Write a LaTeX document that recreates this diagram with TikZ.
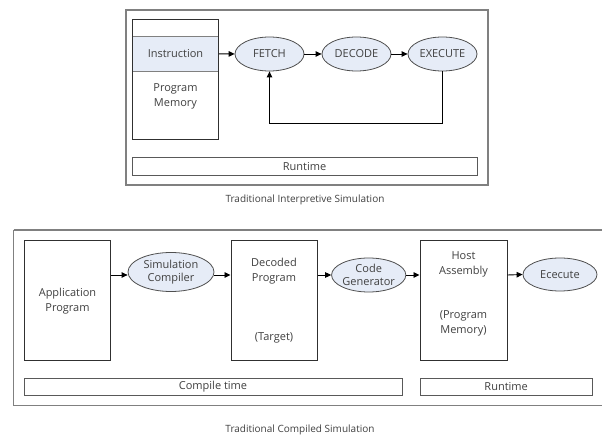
\documentclass[tikz,border=0pt]{standalone}
\usepackage{fontspec}
\setmainfont{Open Sans}
\usetikzlibrary{arrows.meta,shapes.geometric}
\definecolor{frameg}{HTML}{808080}
\definecolor{boxk}{HTML}{303030}
\definecolor{ellfill}{HTML}{E6ECF7}
\definecolor{txt}{HTML}{404040}
\tikzset{
  frame/.style={draw=frameg,line width=1.3pt},
  blk/.style={draw=boxk,line width=1pt,inner sep=0pt},
  bar/.style={draw=boxk!80,line width=0.8pt,inner sep=0pt,font=\fontsize{11}{12}\selectfont,text=txt},
  ell/.style={ellipse,draw=boxk!85,line width=0.8pt,fill=ellfill,inner sep=0pt,font=\fontsize{11}{13}\selectfont,text=txt,align=center},
  lbl/.style={font=\fontsize{11}{15}\selectfont,text=txt,align=center,inner sep=0pt},
  captxt/.style={font=\fontsize{10}{12}\selectfont,text=txt,inner sep=0pt},
  arr/.style={-{Triangle[length=6pt,width=5.5pt]},line width=0.9pt,draw=black},
}
\begin{document}
\begin{tikzpicture}[x=1pt,y=-1pt]
\useasboundingbox (0,0) rectangle (602,435);
\fill[white] (0,0) rectangle (602,435);
% ---------- top ----------
\draw[frame] (126,10) rectangle (488,185);
\node[inner sep=0pt,minimum width=86pt,minimum height=120pt] (pm) at (175.5,79.5) {};
\node[draw=frameg,line width=0.6pt,fill=ellfill,minimum width=86pt,minimum height=34.3pt,inner sep=0pt,font=\fontsize{11}{12}\selectfont,text=txt] (instr) at (175.5,53.85) {Instruction};
\draw[boxk,line width=1pt] (pm.north west) rectangle (pm.south east);
\node[lbl] (pmt) at (175.5,96) {Program\\Memory};
\node[ell,minimum width=69pt,minimum height=34pt] (fetch) at (269.5,54) {FETCH};
\node[ell,minimum width=69pt,minimum height=34pt] (decode) at (356.5,54) {DECODE};
\node[ell,minimum width=69pt,minimum height=34pt] (execute) at (442.5,54) {EXECUTE};
\draw[arr] (instr.east) -- (fetch.west);
\draw[arr] (fetch.east) -- (decode.west);
\draw[arr] (decode.east) -- (execute.west);
\coordinate (fb) at (442.5,123.5);
\draw[arr] (execute.south) -- (fb) -| (fetch.south);
\node[bar,minimum width=345pt,minimum height=17.7pt] (rt1) at (304.5,166.2) {Runtime};
\node[captxt] (cap1) at (305,200) {Traditional Interpretive Simulation};
% ---------- bottom ----------
\draw[frame] (13.5,230) -- (604,230);
\draw[frame] (13.5,230) -- (13.5,405.7) -- (604,405.7);
\node[blk,minimum width=86pt,minimum height=120pt] (app) at (67.5,300.5) {};
\node[lbl] (appt) at (67.5,301) {Application\\Program};
\node[blk,minimum width=86pt,minimum height=120pt] (dec) at (274,300.5) {};
\node[lbl] (dect) at (274,271) {Decoded\\Program};
\node[lbl] (dect2) at (274,338) {(Target)};
\node[blk,minimum width=87pt,minimum height=120pt] (host) at (463.5,300.5) {};
\node[lbl] (hostt) at (463.5,264.5) {Host\\Assembly};
\node[lbl] (hostt2) at (463.5,323) {(Program\\Memory)};
\node[ell,minimum width=86pt,minimum height=39pt] (simc) at (171,272) {Simulation\\Compiler};
\node[ell,minimum width=71pt,minimum height=34pt] (codeg) at (368.7,275) {Code\\Generator};
\node[ell,minimum width=74pt,minimum height=33pt] (exe) at (560,274.5) {Ececute};
\draw[arr] (app.east |- 0,275) -- (simc.west |- 0,275);
\draw[arr] (simc.east |- 0,275) -- (dec.west |- 0,275);
\draw[arr] (dec.east |- 0,275) -- (codeg.west);
\draw[arr] (codeg.east) -- (host.west |- 0,275);
\draw[arr] (host.east |- 0,275) -- (exe.west);
\node[bar,minimum width=378pt,minimum height=16.7pt] (ct) at (213,386.7) {Compile time};
\node[bar,minimum width=172.3pt,minimum height=16.7pt] (rt2) at (506.15,386.7) {Runtime};
\node[captxt] (cap2) at (300,430) {Traditional Compiled Simulation};
\end{tikzpicture}
\end{document}
